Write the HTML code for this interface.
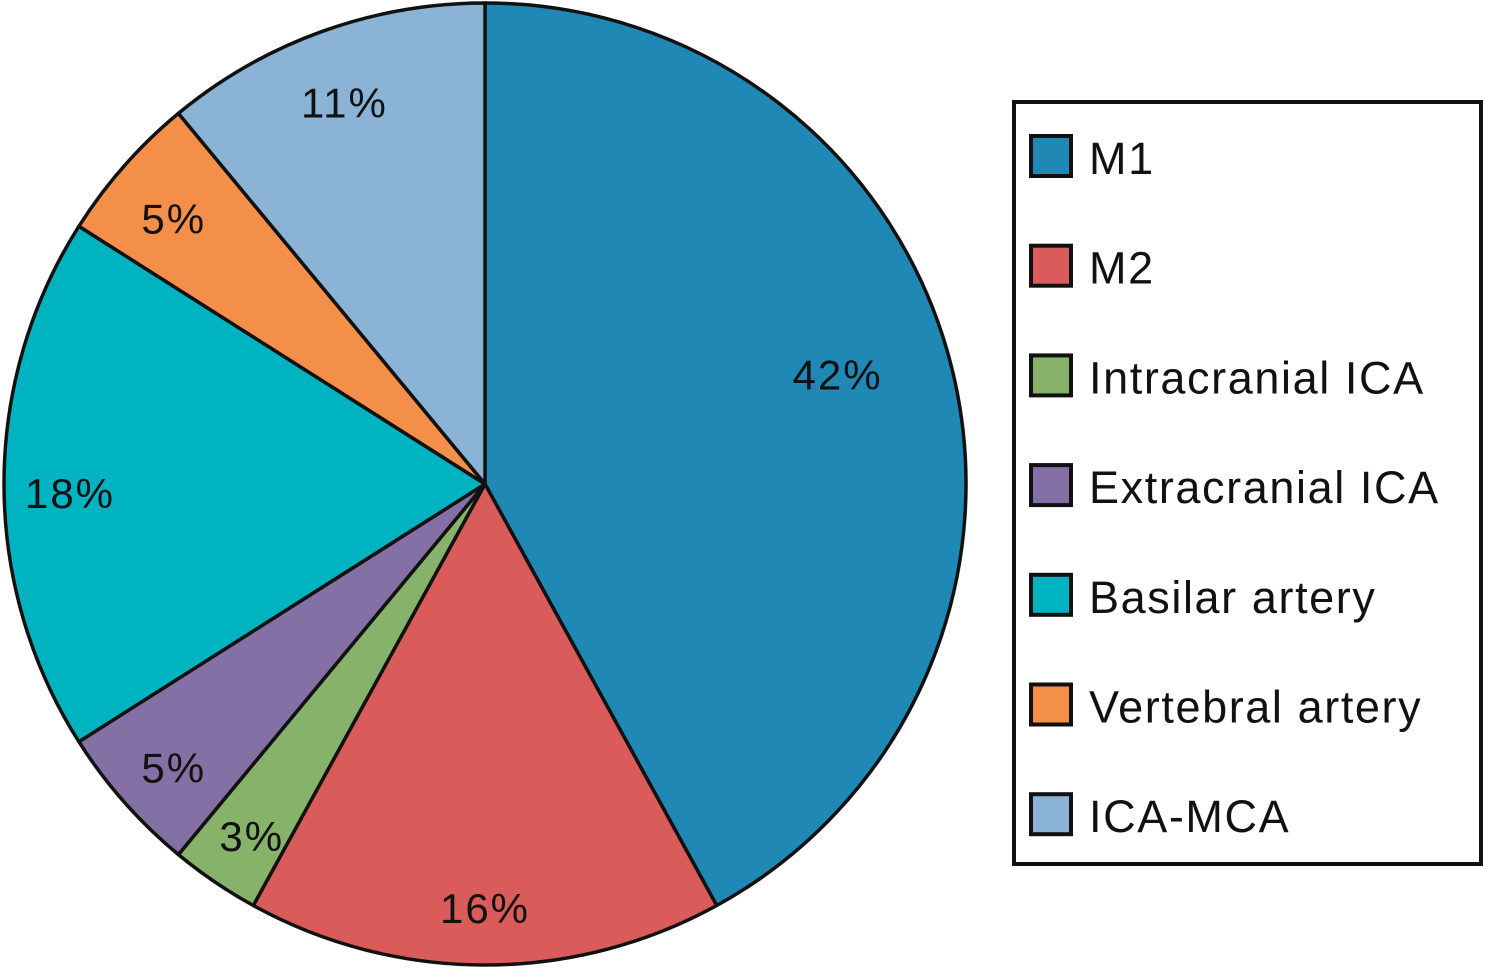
<!DOCTYPE html>
<html><head><meta charset="utf-8"><style>
html,body{margin:0;padding:0;background:#fff;}
svg{display:block;font-family:"Liberation Sans",Arial,sans-serif;}
</style></head><body>
<svg id="chart" width="1486" height="968" viewBox="0 0 1486 968" xmlns="http://www.w3.org/2000/svg"></svg>
<script>
const categories = ["M1","M2","Intracranial ICA","Extracranial ICA","Basilar artery","Vertebral artery","ICA-MCA"];
const values = [42,16,3,5,18,5,11];
const valueLabels = ["42%","16%","3%","5%","18%","5%","11%"];
const colors = ["#1f88b5","#d95b5a","#86b26a","#8470a4","#00b3c1","#f48f4a","#8ab3d5"];

const svg = document.getElementById('chart');
const NS = 'http://www.w3.org/2000/svg';
const cx = 485, cy = 484, R = 481;
const total = values.reduce((a,b)=>a+b,0);
function pt(frac, r){ const a = frac*2*Math.PI; return [cx + r*Math.sin(a), cy - r*Math.cos(a)]; }

let acc = 0;
const sliceGroup = document.createElementNS(NS,'g');


svg.appendChild(sliceGroup);
const labelGroup = document.createElementNS(NS,'g');
svg.appendChild(labelGroup);
values.forEach((v,i)=>{
  const f0 = acc/total, f1 = (acc+v)/total;
  const [x0,y0] = pt(f0,R), [x1,y1] = pt(f1,R);
  const large = (f1-f0) > 0.5 ? 1 : 0;
  const p = document.createElementNS(NS,'path');
  p.setAttribute('d',`M${cx},${cy} L${x0},${y0} A${R},${R} 0 ${large} 1 ${x1},${y1} Z`);
  p.setAttribute('fill',colors[i]);
  p.setAttribute('stroke','#111');
  p.setAttribute('stroke-width','3.5');
  p.setAttribute('stroke-linejoin','round');
  
  
  sliceGroup.appendChild(p);
  const fm = (f0+f1)/2;
  const big = (f1-f0) > 0.3;
  const lr = big ? 364 : 415;
  const [lx,ly] = pt(fm, lr);
  const t = document.createElementNS(NS,'text');
  t.setAttribute('x',lx); t.setAttribute('y',ly + (big ? -4 : 24));
  t.setAttribute('text-anchor','middle');
  t.setAttribute('font-size','42');
  t.setAttribute('letter-spacing','2');
  t.setAttribute('fill','#111');
  t.textContent = valueLabels[i];
  
  
  labelGroup.appendChild(t);
  acc += v;
});

// legend
const lg = document.createElementNS(NS,'g');


svg.appendChild(lg);
const box = document.createElementNS(NS,'rect');
box.setAttribute('x',1014); box.setAttribute('y',102); box.setAttribute('width',467); box.setAttribute('height',762);
box.setAttribute('fill','#fff'); box.setAttribute('stroke','#111'); box.setAttribute('stroke-width','4');


lg.appendChild(box);
categories.forEach((c,i)=>{
  const yc = 156 + i*109.7;
  const g = document.createElementNS(NS,'g');
  
  
  const r = document.createElementNS(NS,'rect');
  r.setAttribute('x',1031); r.setAttribute('y',yc-20); r.setAttribute('width',40); r.setAttribute('height',40);
  r.setAttribute('fill',colors[i]); r.setAttribute('stroke','#111'); r.setAttribute('stroke-width','4');
  
  
  g.appendChild(r);
  const t = document.createElementNS(NS,'text');
  t.setAttribute('x',1089); t.setAttribute('y',yc+18);
  t.setAttribute('font-size','45'); t.setAttribute('letter-spacing','1.6'); t.setAttribute('fill','#111');
  t.textContent = c;
  
  
  g.appendChild(t);
  lg.appendChild(g);
});
</script>
</body></html>
